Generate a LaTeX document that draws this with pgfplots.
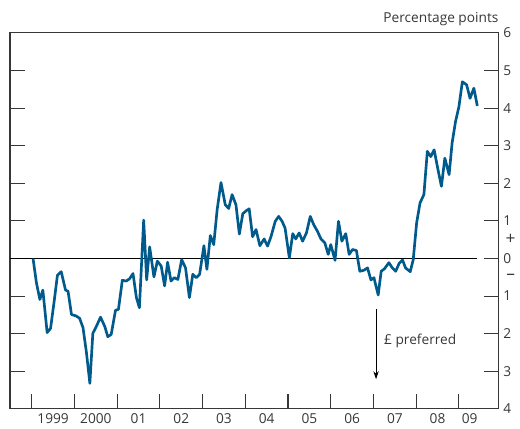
\documentclass[border=0pt]{standalone}
\usepackage{fontspec}
\setmainfont{Open Sans}
\usepackage{pgfplots}
\pgfplotsset{compat=1.18}
\usetikzlibrary{arrows.meta}
\definecolor{lineblue}{RGB}{0,90,140}
\definecolor{axgray}{RGB}{55,55,55}

\begin{document}
\begin{tikzpicture}
\begin{axis}[
    name=ax,
    scale only axis,
    width=367.5pt, height=282.75pt,
    xmin=1998.49, xmax=2009.93,
    ymin=-4, ymax=6,
    clip=false,
    axis line style={axgray, line width=0.8pt},
    tick style={axgray, line width=0.8pt},
    tick align=inside,
    major tick length=11.25pt,
    xtick={1999,...,2009},
    xticklabels={},
    xtick pos=lower,
    extra x ticks={1999.5,2000.5,2001.5,2002.5,2003.5,2004.5,2005.5,2006.5,2007.5,2008.5,2009.25},
    extra x tick labels={1999,2000,01,02,03,04,05,06,07,08,09},
    extra x tick style={major tick length=0pt, tick style={draw=none}},
    ytick={-4,...,6},
    yticklabels={4,3,2,1,0,1,2,3,4,5,6},
    ytick pos=both,
    yticklabel pos=right,
    tick label style={font=\fontsize{10.3}{12}\selectfont, text=axgray},
]
% zero line
\addplot[black, line width=0.6pt] coordinates {(1998.49,0) (2009.43,0)};

\addplot[lineblue, line width=2pt, line join=round] coordinates {
(1999.03,0) (1999.11,-0.65) (1999.19,-1.09) (1999.26,-0.84) (1999.36,-1.97)
(1999.44,-1.86) (1999.52,-1.18) (1999.60,-0.45) (1999.69,-0.35) (1999.79,-0.84)
(1999.85,-0.87) (1999.93,-1.49) (2000.04,-1.53) (2000.12,-1.59) (2000.20,-1.84)
(2000.28,-2.50) (2000.36,-3.32) (2000.43,-1.99) (2000.51,-1.81) (2000.61,-1.56)
(2000.71,-1.81) (2000.78,-2.08) (2000.86,-2.02) (2000.96,-1.38) (2001.03,-1.35)
(2001.12,-0.58) (2001.21,-0.60) (2001.29,-0.54) (2001.37,-0.40) (2001.45,-1.04)
(2001.52,-1.31) (2001.62,1.02) (2001.69,-0.57) (2001.76,0.31) (2001.86,-0.49)
(2001.94,-0.07) (2002.03,-0.20) (2002.11,-0.73) (2002.18,-0.10) (2002.26,-0.60)
(2002.34,-0.51) (2002.42,-0.56) (2002.51,-0.03) (2002.60,-0.25) (2002.69,-1.04)
(2002.77,-0.42) (2002.85,-0.51) (2002.93,-0.42) (2003.03,0.34) (2003.10,-0.29)
(2003.18,0.61) (2003.26,0.37) (2003.34,1.30) (2003.43,2.02) (2003.53,1.43)
(2003.61,1.33) (2003.69,1.70) (2003.78,1.43) (2003.86,0.65) (2003.94,1.19)
(2004.02,1.27) (2004.09,1.32) (2004.17,0.58) (2004.25,0.77) (2004.34,0.34)
(2004.44,0.52) (2004.52,0.33) (2004.60,0.58) (2004.70,0.99) (2004.78,1.12)
(2004.86,0.99) (2004.93,0.81) (2005.03,0.02) (2005.11,0.66) (2005.18,0.52)
(2005.26,0.68) (2005.34,0.46) (2005.43,0.68) (2005.52,1.12) (2005.60,0.90)
(2005.69,0.72) (2005.77,0.52) (2005.86,0.42) (2005.94,0.11) (2006.00,0.37)
(2006.10,-0.05) (2006.18,0.99) (2006.26,0.46) (2006.35,0.66) (2006.43,0.11)
(2006.51,0.24) (2006.60,0.21) (2006.68,-0.34) (2006.78,-0.31) (2006.86,-0.25)
(2006.94,-0.57) (2007.01,-0.51) (2007.11,-0.97) (2007.18,-0.34) (2007.26,-0.27)
(2007.36,-0.11) (2007.44,-0.25) (2007.52,-0.34) (2007.60,-0.13) (2007.68,-0.04)
(2007.75,-0.25) (2007.86,-0.35) (2007.93,-0.03) (2008.01,0.95) (2008.09,1.48)
(2008.18,1.70) (2008.26,2.85) (2008.34,2.71) (2008.42,2.89) (2008.51,2.36)
(2008.59,1.92) (2008.67,2.67) (2008.77,2.23) (2008.84,3.07) (2008.92,3.64)
(2009.00,4.04) (2009.08,4.70) (2009.18,4.62) (2009.26,4.26) (2009.35,4.53)
(2009.43,4.06)
};

% annotations
\node[anchor=east, font=\fontsize{10.3}{12}\selectfont, text=axgray, yshift=10.5pt, inner sep=0pt]
    at (rel axis cs:1,1) {Percentage points};
\node[font=\fontsize{13}{14}\selectfont, text=axgray, xshift=9pt] at (axis cs:2009.93,0.52) {+};
\node[font=\fontsize{13}{14}\selectfont, text=axgray, xshift=9pt] at (axis cs:2009.93,-0.48) {–};
\draw[-{Stealth[length=6pt,width=4pt]}, black, line width=0.6pt]
    (axis cs:2007.06,-1.33) -- (axis cs:2007.06,-3.21);
\node[anchor=west, font=\fontsize{10.3}{12}\selectfont, text=axgray]
    at (axis cs:2007.14,-2.2) {£ preferred};
\end{axis}
\path ([shift={(-7.5pt,-15pt)}]ax.south west) rectangle ([shift={(15pt,24.75pt)}]ax.north east);
\end{tikzpicture}
\end{document}
